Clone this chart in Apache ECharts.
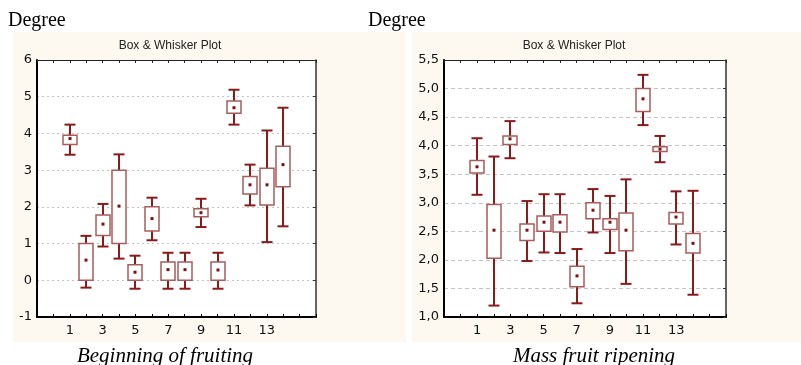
<!DOCTYPE html>
<html>
<head>
<meta charset="utf-8">
<script src="https://cdn.jsdelivr.net/npm/echarts@6/dist/echarts.min.js"></script>
<style>
html,body{margin:0;padding:0;background:#fff;}
#chart{width:801px;height:365px;}
</style>
</head>
<body>
<div id="chart"></div>
<script>
// ---- Data ----
const categories = [1, 2, 3, 4, 5, 6, 7, 8, 9, 10, 11, 12, 13, 14];
const xTickLabels = [1, 3, 5, 7, 9, 11, 13];

// Beginning of fruiting
const leftWhiskerLow  = [3.42, -0.20, 0.92, 0.59, -0.23, 1.09, -0.23, -0.23, 1.45, -0.23, 4.24, 2.04, 1.04, 1.47];
const leftBoxLow      = [3.70,  0.00, 1.22, 1.00,  0.00, 1.34,  0.00,  0.00, 1.73,  0.00, 4.55, 2.35, 2.05, 2.55];
const leftMid         = [3.86,  0.55, 1.53, 2.02,  0.22, 1.68,  0.29,  0.29, 1.84,  0.28, 4.70, 2.60, 2.60, 3.15];
const leftBoxHigh     = [3.95,  1.00, 1.78, 3.00,  0.42, 2.00,  0.50,  0.50, 1.95,  0.50, 4.88, 2.83, 3.05, 3.65];
const leftWhiskerHigh = [4.24,  1.21, 2.08, 3.43,  0.67, 2.25,  0.75,  0.75, 2.22,  0.75, 5.19, 3.15, 4.08, 4.70];

// Mass fruit ripening
const rightWhiskerLow  = [3.14, 1.20, 3.78, 1.98, 2.13, 2.12, 1.24, 2.48, 2.12, 1.58, 4.36, 3.71, 2.27, 1.39];
const rightBoxLow      = [3.52, 2.03, 4.02, 2.34, 2.50, 2.49, 1.53, 2.72, 2.53, 2.16, 4.60, 3.90, 2.63, 2.12];
const rightMid         = [3.63, 2.52, 4.12, 2.52, 2.66, 2.66, 1.72, 2.87, 2.66, 2.52, 4.82, 3.94, 2.75, 2.29];
const rightBoxHigh     = [3.74, 2.97, 4.17, 2.63, 2.77, 2.79, 1.89, 3.00, 2.72, 2.82, 5.00, 3.98, 2.83, 2.46];
const rightWhiskerHigh = [4.13, 3.81, 4.43, 3.03, 3.15, 3.15, 2.19, 3.24, 3.12, 3.41, 5.24, 4.17, 3.20, 3.21];

const leftYTicks = { min: -1, max: 6, interval: 1 };
const rightYTicks = { min: 1.0, max: 5.5, interval: 0.5 };

function buildRows(lo, bl, md, bh, hi) {
  return categories.map((c, i) => [c, lo[i], bl[i], md[i], bh[i], hi[i]]);
}

const WHISKER = '#8b1a1a';
const BOXLINE = '#a85c5c';
const DOT = '#7a1212';
const CREAM = '#fdf9f0';

function renderBox(params, api) {
  const x = api.value(0);
  const pLo = api.coord([x, api.value(1)]);
  const pBl = api.coord([x, api.value(2)]);
  const pMd = api.coord([x, api.value(3)]);
  const pBh = api.coord([x, api.value(4)]);
  const pHi = api.coord([x, api.value(5)]);
  const cx = Math.round(pMd[0]);
  const halfBox = 7, halfCap = 5.5;
  const lineStyle = { stroke: WHISKER, lineWidth: 2 };
  return {
    type: 'group',
    children: [
      { type: 'line', shape: { x1: cx, y1: pHi[1], x2: cx, y2: pBh[1] }, style: lineStyle },
      { type: 'line', shape: { x1: cx, y1: pBl[1], x2: cx, y2: pLo[1] }, style: lineStyle },
      { type: 'line', shape: { x1: cx - halfCap, y1: pHi[1], x2: cx + halfCap, y2: pHi[1] }, style: lineStyle },
      { type: 'line', shape: { x1: cx - halfCap, y1: pLo[1], x2: cx + halfCap, y2: pLo[1] }, style: lineStyle },
      { type: 'rect', shape: { x: cx - halfBox, y: pBh[1], width: halfBox * 2, height: pBl[1] - pBh[1] },
        style: { fill: '#fff', stroke: BOXLINE, lineWidth: 1.5 } },
      { type: 'rect', shape: { x: cx - 1.5, y: pMd[1] - 1.5, width: 3, height: 3 }, style: { fill: DOT } }
    ]
  };
}

const axisFont = { fontFamily: 'DejaVu Sans', fontSize: 13, color: '#111' };

function xAxes(gi) {
  return [
    {
      gridIndex: gi, type: 'value', position: 'bottom', min: -1, max: 16, interval: 1,
      axisLine: { show: true, onZero: false, lineStyle: { color: '#000', width: 2 } },
      axisTick: { show: true, inside: true, length: 3, lineStyle: { color: '#000', width: 1 } },
      axisLabel: Object.assign({
        margin: 7,
        formatter: v => (xTickLabels.indexOf(v) >= 0 ? String(v) : '')
      }, axisFont),
      splitLine: { show: false }
    },
    {
      gridIndex: gi, type: 'value', position: 'top', min: -1, max: 16, interval: 1,
      axisLine: { show: true, onZero: false, lineStyle: { color: '#222', width: 1 } },
      axisTick: { show: true, inside: true, length: 3, lineStyle: { color: '#222', width: 1 } },
      axisLabel: { show: false },
      splitLine: { show: false }
    }
  ];
}

function yAxes(gi, t, fmt, dash) {
  return [
    {
      gridIndex: gi, type: 'value', position: 'left', min: t.min, max: t.max, interval: t.interval,
      axisLine: { show: true, onZero: false, lineStyle: { color: '#000', width: 2 } },
      axisTick: { show: false },
      axisLabel: Object.assign({ margin: 5, formatter: fmt }, axisFont),
      splitLine: { show: true, lineStyle: { color: '#c4c4c4', width: 1, type: dash } }
    },
    {
      gridIndex: gi, type: 'value', position: 'right', min: t.min, max: t.max, interval: t.interval,
      axisLine: { show: true, onZero: false, lineStyle: { color: '#333', width: 1.5 } },
      axisTick: { show: true, inside: true, length: 3, lineStyle: { color: '#333', width: 1 } },
      axisLabel: { show: false },
      splitLine: { show: false }
    }
  ];
}

const chart = echarts.init(document.getElementById('chart'), null, { renderer: 'canvas' });

const option = {
  backgroundColor: '#fff',
  animation: false,
  graphic: [
    { type: 'rect', z: -10, shape: { x: 13, y: 32, width: 393, height: 310 }, style: { fill: CREAM } },
    { type: 'rect', z: -10, shape: { x: 412, y: 32, width: 389, height: 310 }, style: { fill: CREAM } },
    { type: 'text', z: 10, style: { x: 8, y: 21, text: 'Degree', font: '20px "Liberation Serif"', fill: '#000', verticalAlign: 'middle' } },
    { type: 'text', z: 10, style: { x: 368, y: 21, text: 'Degree', font: '20px "Liberation Serif"', fill: '#000', verticalAlign: 'middle' } },
    { type: 'text', z: 10, style: { x: 170, y: 45.5, text: 'Box & Whisker Plot', font: '12px "Liberation Sans"', fill: '#222', align: 'center', verticalAlign: 'middle' } },
    { type: 'text', z: 10, style: { x: 574, y: 45.5, text: 'Box & Whisker Plot', font: '12px "Liberation Sans"', fill: '#222', align: 'center', verticalAlign: 'middle' } },
    { type: 'text', z: 10, style: { x: 165, y: 356, text: 'Beginning of fruiting', font: 'italic 21px "Liberation Serif"', fill: '#000', align: 'center', verticalAlign: 'middle' } },
    { type: 'text', z: 10, style: { x: 594, y: 356, text: 'Mass fruit ripening', font: 'italic 21px "Liberation Serif"', fill: '#000', align: 'center', verticalAlign: 'middle' } }
  ],
  grid: [
    { left: 37, top: 60, width: 279, height: 257, show: true, backgroundColor: '#fff', borderWidth: 0 },
    { left: 444, top: 60, width: 282, height: 257, show: true, backgroundColor: '#fff', borderWidth: 0 }
  ],
  xAxis: [].concat(xAxes(0), xAxes(1)),
  yAxis: [].concat(
    yAxes(0, leftYTicks, v => String(v), [2, 3]),
    yAxes(1, rightYTicks, v => v.toFixed(1).replace('.', ','), [4, 3])
  ),
  series: [
    {
      type: 'custom', xAxisIndex: 0, yAxisIndex: 0, clip: false,
      renderItem: renderBox,
      encode: { x: 0, y: [1, 2, 3, 4, 5] },
      data: buildRows(leftWhiskerLow, leftBoxLow, leftMid, leftBoxHigh, leftWhiskerHigh)
    },
    {
      type: 'custom', xAxisIndex: 2, yAxisIndex: 2, clip: false,
      renderItem: renderBox,
      encode: { x: 0, y: [1, 2, 3, 4, 5] },
      data: buildRows(rightWhiskerLow, rightBoxLow, rightMid, rightBoxHigh, rightWhiskerHigh)
    }
  ]
};

chart.setOption(option);
</script>
</body>
</html>
